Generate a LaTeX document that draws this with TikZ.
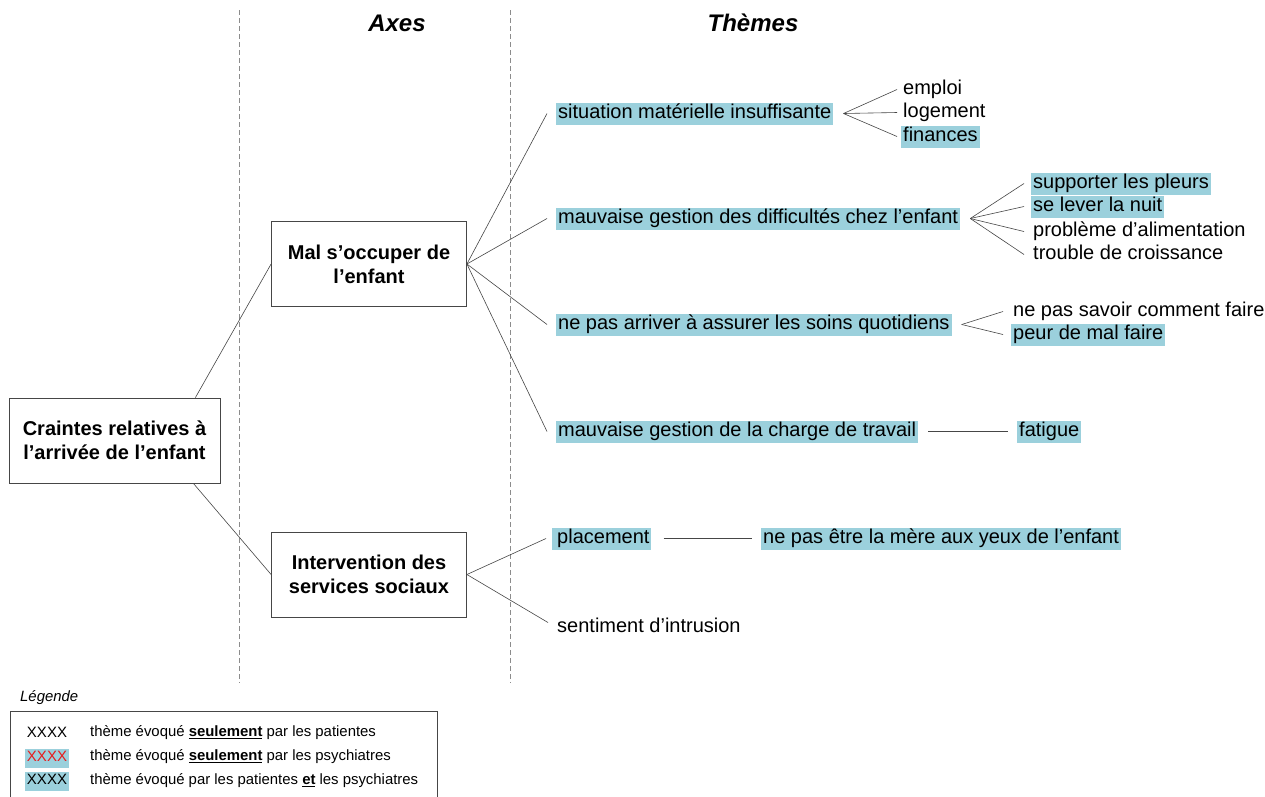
\documentclass[tikz,border=0pt]{standalone}
\usepackage{fontspec}
\setmainfont{Liberation Sans}
\definecolor{hlblue}{RGB}{155,208,220}
\definecolor{lin}{RGB}{70,70,70}
\definecolor{sepgray}{RGB}{140,140,140}
\definecolor{legred}{RGB}{230,30,30}
\begin{document}
\begin{tikzpicture}[x=1pt,y=-1pt,
  every node/.style={font=\fontsize{20}{24}\selectfont},
  th/.style={anchor=west, inner xsep=2pt, inner ysep=1pt, text height=15pt, text depth=5pt, yshift=-1.5pt},
  hl/.style={th, fill=hlblue},
  axbox/.style={draw=lin, line width=0.8pt, minimum height=85pt, align=center, inner sep=0pt,
    font=\bfseries\fontsize{20}{24}\selectfont},
  ttl/.style={font=\bfseries\itshape\fontsize{24}{28}\selectfont},
  conn/.style={draw=lin, line width=0.6pt},
  sepline/.style={draw=sepgray, line width=0.8pt, dash pattern=on 5pt off 3pt},
  legtxt/.style={anchor=west, inner xsep=2pt, inner ysep=0pt, font=\fontsize{14.9}{17}\selectfont},
  legx/.style={inner xsep=2pt, inner ysep=1pt, text height=12pt, text depth=5pt, font=\fontsize{15}{17}\selectfont},
]
\useasboundingbox (0,0) rectangle (1265,796);
\fill[white] (0,0) rectangle (1265,796);

% separators and titles
\draw[sepline] (239,10) -- (239,683);
\draw[sepline] (510,10) -- (510,683);
\node[ttl] (tAxes) at (397,23) {Axes};
\node[ttl] (tThemes) at (753,23) {Thèmes};

% axis boxes
\node[axbox, minimum width=211pt] (root) at (114.5,440.5) {Craintes relatives à\\l’arrivée de l’enfant};
\node[axbox, minimum width=195pt] (mal) at (369,264) {Mal s’occuper de\\l’enfant};
\node[axbox, minimum width=195pt] (inter) at (369,574.5) {Intervention des\\services sociaux};

\draw[conn] ([xshift=-25pt]root.north east) -- (mal.west);
\draw[conn] ([xshift=-27pt]root.south east) -- (inter.west);

% themes
\node[hl] (t1) at (556,112) {situation matérielle insuffisante};
\node[hl] (t2) at (556,217) {mauvaise gestion des difficultés chez l’enfant};
\node[hl] (t3) at (556,323) {ne pas arriver à assurer les soins quotidiens};
\node[hl] (t4) at (556,430) {mauvaise gestion de la charge de travail};
\node[hl] (t5) at (552,537) {\hspace{3pt}placement\hspace{4pt}};
\node[th] (t6) at (555,626) {sentiment d’intrusion};

\foreach \t in {t1,t2,t3,t4} \draw[conn] (mal.east) -- ([xshift=-9pt]\t.west);
\draw[conn] (inter.east) -- ([xshift=-6pt]t5.west);
\draw[conn] (inter.east) -- ([xshift=-7pt,yshift=5pt]t6.west);

% sub-themes
\node[th] (s11) at (901,88) {emploi};
\node[th] (s12) at (901,111) {logement};
\node[hl] (s13) at (901,135) {finances};
\node[hl] (s21) at (1031,182) {supporter les pleurs};
\node[hl] (s22) at (1031,205) {se lever la nuit\hspace{3pt}};
\node[th] (s23) at (1031,230) {problème d’alimentation};
\node[th] (s24) at (1031,253) {trouble de croissance};
\node[th] (s31) at (1011,310) {ne pas savoir comment faire};
\node[hl] (s32) at (1011,333) {peur de mal faire};
\node[hl] (s41) at (1017,430) {fatigue};
\node[hl] (s51) at (761,537) {ne pas être la mère aux yeux de l’enfant\hspace{3pt}};

\coordinate (f1) at ([xshift=10pt]t1.east);
\coordinate (f2) at ([xshift=10pt]t2.east);
\coordinate (f3) at ([xshift=10pt]t3.east);
\foreach \n in {s11,s12,s13} \draw[conn] (f1) -- ([xshift=-4pt]\n.west);
\foreach \n in {s21,s22,s23,s24} \draw[conn] (f2) -- ([xshift=-7pt]\n.west);
\foreach \n in {s31,s32} \draw[conn] (f3) -- ([xshift=-8pt]\n.west);
\draw[conn] ([xshift=10pt]t4.east) -- ([xshift=-9pt]s41.west);
\draw[conn] ([xshift=12pt]t5.east) -- ([xshift=-9pt]s51.west);

% legend
\node[anchor=west, inner sep=0pt, font=\itshape\fontsize{14.9}{17}\selectfont] (leg) at (20,698) {Légende};
\draw[draw=lin, line width=0.9pt] (10,797) -- (10,711) -- (437,711) -- (437,797);
\node[legx] (lx1) at (47,733.5) {XXXX};
\node[legx, fill=hlblue, text=legred] (lx2) at (47,758) {XXXX};
\node[legx, fill=hlblue] (lx3) at (47,781) {XXXX};
\node[legtxt] (lt1) at (88,732.5) {thème évoqué \underline{\textbf{seulement}} par les patientes};
\node[legtxt] (lt2) at (88,756.5) {thème évoqué \underline{\textbf{seulement}} par les psychiatres};
\node[legtxt] (lt3) at (88,780.5) {thème évoqué par les patientes \underline{\textbf{et}} les psychiatres};
\end{tikzpicture}
\end{document}
